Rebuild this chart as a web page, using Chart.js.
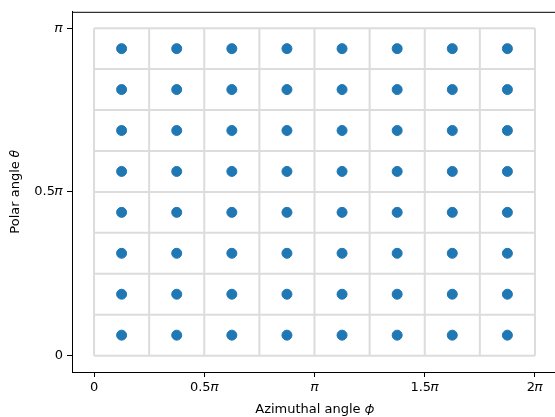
<!DOCTYPE html>
<html>
<head>
<meta charset="utf-8">
<script src="https://cdn.jsdelivr.net/npm/chart.js@4"></script>
<style>
  html, body { margin: 0; padding: 0; overflow: hidden; background: #fff; }
  #wrap { position: absolute; left: 0; top: 0; width: 565px; height: 417px; }
</style>
</head>
<body>
<div id="wrap"><canvas id="gridChart"></canvas></div>
<script>
const PI = Math.PI;

// grid cell edges (8 x 8 cells over phi in [0, 2pi], theta in [0, pi])
const phiEdges = [0, 0.25, 0.5, 0.75, 1, 1.25, 1.5, 1.75, 2].map(v => v * PI);
const thetaEdges = [0, 0.125, 0.25, 0.375, 0.5, 0.625, 0.75, 0.875, 1].map(v => v * PI);

// cell centres
const phiCenters = [0.125, 0.375, 0.625, 0.875, 1.125, 1.375, 1.625, 1.875].map(v => v * PI);
const thetaCenters = [0.0625, 0.1875, 0.3125, 0.4375, 0.5625, 0.6875, 0.8125, 0.9375].map(v => v * PI);

// tick positions and labels
const xTicks = [0, 0.5 * PI, PI, 1.5 * PI, 2 * PI];
const xTickLabels = ['0', '0.5𝜋', '𝜋', '1.5𝜋', '2𝜋'];
const yTicks = [0, 0.5 * PI, PI];
const yTickLabels = ['0', '0.5𝜋', '𝜋'];

const gridColor = '#dcdcdc';
const pointColor = '#1f77b4';

let datasets = [];

// vertical cell edges
phiEdges.forEach(p => {
    datasets.push({
        type: 'line',
        data: [{x: p, y: thetaEdges[0]}, {x: p, y: thetaEdges[thetaEdges.length - 1]}],
        borderColor: gridColor,
        borderWidth: 2,
        pointRadius: 0,
        fill: false
    });
});
// horizontal cell edges
thetaEdges.forEach(t => {
    datasets.push({
        type: 'line',
        data: [{x: phiEdges[0], y: t}, {x: phiEdges[phiEdges.length - 1], y: t}],
        borderColor: gridColor,
        borderWidth: 2,
        pointRadius: 0,
        fill: false
    });
});

let centers = [];
thetaCenters.forEach(t => {
    phiCenters.forEach(p => centers.push({x: p, y: t}));
});
datasets.push({
    type: 'scatter',
    data: centers,
    backgroundColor: pointColor,
    borderColor: pointColor,
    pointRadius: 5,
    pointHoverRadius: 5
});

const frame = {
    id: 'frame',
    afterDraw(chart) {
        const a = chart.chartArea;
        const c = chart.ctx;
        c.save();
        c.strokeStyle = '#000';
        c.lineWidth = 1;
        c.strokeRect(a.left + 0.5, a.top + 0.5, a.right - a.left, a.bottom - a.top);
        c.restore();
    }
};

const font = { family: 'DejaVu Sans', size: 13 };

const ctx = document.getElementById('gridChart').getContext('2d');
let chart = new Chart(ctx, {
    type: 'scatter',
    data: { datasets: datasets },
    options: {
        responsive: true,
        maintainAspectRatio: false,
        animation: false,
        events: [],
        layout: { padding: { top: 10, right: 8, left: 0, bottom: 0 } },
        plugins: {
            legend: { display: false },
            tooltip: { enabled: false }
        },
        scales: {
            x: {
                type: 'linear',
                min: -0.1 * PI,
                max: 2.1 * PI,
                afterBuildTicks: s => { s.ticks = xTicks.map(v => ({value: v})); },
                afterFit: s => { s.height = 45; s.paddingLeft = 0; s.paddingRight = 0; },
                ticks: {
                    callback: (v, i) => xTickLabels[i],
                    color: '#000',
                    font: font,
                    padding: 3,
                    maxRotation: 0
                },
                grid: { drawOnChartArea: false, drawTicks: true, tickLength: 5, tickColor: '#000' },
                border: { display: true, color: '#000', width: 1 },
                title: {
                    display: true,
                    text: 'Azimuthal angle 𝜙',
                    color: '#000',
                    font: font,
                    padding: { top: 3, bottom: 0 }
                }
            },
            y: {
                type: 'linear',
                min: -0.05 * PI,
                max: 1.05 * PI,
                afterBuildTicks: s => { s.ticks = yTicks.map(v => ({value: v})); },
                afterFit: s => { s.width = 72; },
                ticks: {
                    callback: (v, i) => yTickLabels[i],
                    color: '#000',
                    font: font,
                    padding: 4
                },
                grid: { drawOnChartArea: false, drawTicks: true, tickLength: 5, tickColor: '#000' },
                border: { display: true, color: '#000', width: 1 },
                title: {
                    display: true,
                    text: 'Polar angle 𝜃',
                    color: '#000',
                    font: font,
                    padding: { top: 8, bottom: 4 }
                }
            }
        }
    },
    plugins: [frame]
});
</script>
</body>
</html>
